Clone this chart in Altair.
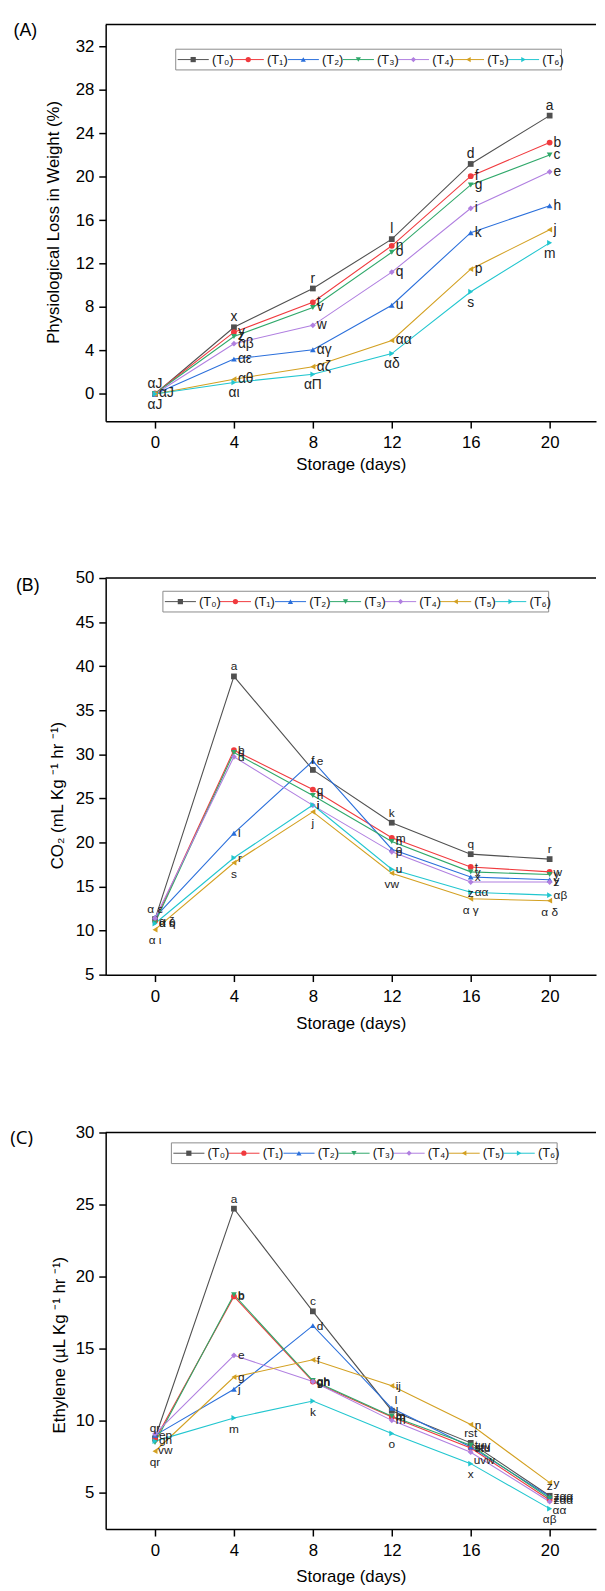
import altair as alt
import pandas as pd

# ---------------- data ----------------
DAYS = [0, 4, 8, 12, 16, 20]
SERIES = ["(T₀)", "(T₁)", "(T₂)", "(T₃)", "(T₄)", "(T₅)", "(T₆)"]
COLORS = ["#505050", "#F03A3E", "#2A6FDB", "#2FA86A", "#B07FE0", "#D3A021", "#21C6CF"]
SHAPES = ["square", "circle", "triangle-up", "triangle-down", "diamond",
          "triangle-left", "triangle-right"]

# (A) Physiological loss in weight (%)
PLW_VALUES = [
    [0.00, 6.14, 9.71, 14.25, 21.17, 25.62],
    [0.05, 5.69, 8.44, 13.64, 20.05, 23.14],
    [0.00, 3.21, 4.08, 8.17, 14.85, 17.33],
    [0.05, 5.29, 7.96, 13.04, 19.24, 21.99],
    [0.00, 4.63, 6.32, 11.22, 17.09, 20.45],
    [0.00, 1.36, 2.51, 4.93, 11.49, 15.12],
    [0.00, 1.06, 1.81, 3.72, 9.41, 13.91],
]
PLW_LETTERS = [
    ["αJ", "x", "r", "l", "d", "a"],
    ["αJ", "y", "t", "n", "f", "b"],
    ["", "αε", "αγ", "u", "k", "h"],
    ["", "z", "v", "o", "g", "c"],
    ["", "αβ", "w", "q", "i", "e"],
    ["", "αθ", "αζ", "αα", "p", "j"],
    ["αJ", "αι", "αΠ", "αδ", "s", "m"],
]
PLW_PLACES = [
    ["a", "a", "a", "a", "a", "a"],
    ["r", "r", "r", "r", "r", "r"],
    ["r", "r", "r", "r", "r", "r"],
    ["r", "r", "r", "r", "r", "r"],
    ["r", "r", "r", "r", "r", "r"],
    ["r", "r", "r", "r", "r", "r"],
    ["b", "b", "b", "b", "b", "b"],
]

# (B) CO2 (mL Kg-1 hr-1)
CO2_VALUES = [
    [11.3, 38.84, 28.23, 22.24, 18.67, 18.11],
    [11.1, 30.47, 26.00, 20.53, 17.22, 16.66],
    [11.5, 21.05, 29.24, 19.23, 16.07, 15.77],
    [10.9, 30.20, 25.33, 20.12, 16.66, 16.36],
    [11.4, 29.72, 24.21, 18.93, 15.51, 15.51],
    [10.1, 17.70, 23.47, 16.51, 13.61, 13.39],
    [10.8, 18.26, 24.25, 16.96, 14.35, 14.02],
]
CO2_LETTERS = [
    ["α ε", "a", "f", "k", "q", "r"],
    ["α ζ", "b", "g", "m", "t", "w"],
    ["", "l", "e", "o", "x", "y"],
    ["α η", "c", "h", "n", "v", "y"],
    ["", "d", "i", "p", "z", "z"],
    ["α ι", "s", "j", "vw", "α γ", "α δ"],
    ["α θ", "r", "i", "u", "αα", "αβ"],
]
CO2_PLACES = [
    ["a", "a", "a", "a", "a", "a"],
    ["r", "r", "r", "r", "r", "r"],
    ["r", "r", "r", "r", "r", "r"],
    ["r", "r", "r", "r", "r", "r"],
    ["r", "r", "r", "r", "b", "r"],
    ["b", "b", "b", "b", "b", "b"],
    ["r", "r", "r", "r", "r", "r"],
]

# (C) Ethylene (uL Kg-1 hr-1)
ETH_VALUES = [
    [8.8, 24.72, 17.60, 10.71, 8.48, 4.81],
    [8.7, 18.63, 12.73, 10.28, 8.12, 4.52],
    [9.0, 12.20, 16.61, 10.88, 8.20, 4.76],
    [8.5, 18.75, 12.80, 10.33, 8.31, 4.64],
    [9.1, 14.55, 12.73, 10.04, 7.83, 4.40],
    [7.9, 13.04, 14.24, 12.44, 9.75, 5.72],
    [8.6, 10.21, 11.38, 9.13, 7.04, 3.92],
]
ETH_LETTERS = [
    ["qr", "a", "c", "l", "rst", "z"],
    ["gh", "b", "gh", "m", "stu", "zαα"],
    ["ep", "j", "d", "l", "stu", "zαα"],
    ["vw", "b", "gh", "m", "tuv", "zαα"],
    ["", "e", "gh", "m", "uvw", "αα"],
    ["qr", "g", "f", "ij", "n", "y"],
    ["", "m", "k", "o", "x", "αβ"],
]
ETH_PLACES = [
    ["a", "a", "a", "r", "a", "a"],
    ["r", "r", "r", "r", "r", "r"],
    ["r", "r", "r", "ra", "r", "r"],
    ["rb", "r", "r", "r", "r", "r"],
    ["r", "r", "r", "r", "rb", "rb"],
    ["b", "r", "r", "r", "r", "r"],
    ["b", "b", "b", "b", "b", "b"],
]

# ---------------- layout ----------------
W, H = 497, 402
XDOM = [-2.5, 22.35]
FONT = "Liberation Sans"
ONE = alt.Data(values=[{"k": 1}])

PLACE_STYLE = {
    "a": dict(dx=0, dy=-10, align="center"),
    "b": dict(dx=0, dy=11, align="center"),
    "r": dict(dx=4, dy=0, align="left"),
    "ra": dict(dx=3, dy=-8, align="left"),
    "rb": dict(dx=3, dy=8, align="left"),
}


def long_table(values, letters, places):
    rows = []
    for si, s in enumerate(SERIES):
        for di, d in enumerate(DAYS):
            rows.append({"series": s, "sidx": si, "day": d,
                         "value": values[si][di],
                         "letter": letters[si][di],
                         "place": places[si][di]})
    return pd.DataFrame(rows)


def legend_table(left, top):
    rows = []
    for i, s in enumerate(SERIES):
        start = left + 2 + 55.8 * i
        rows.append({"series": s, "x0": start, "x1": start + 31.5,
                     "mx": start + 15.7, "tx": left + 36.7 + 55.8 * i,
                     "ly": top + 10.5})
    return pd.DataFrame(rows)


def panel(values, letters, places, ydom, yticks, ytitle, tag, tag_font, tag_size, tag_x, tag_y,
          leg_left, leg_top, lab_size, xtitle_pad, ytitle_pad, ytitle_y, spacer_y=None):
    df = long_table(values, letters, places)
    base = alt.Chart(df)
    x = alt.X("day:Q", scale=alt.Scale(domain=XDOM, nice=False, zero=False),
              axis=alt.Axis(values=DAYS, title="Storage (days)", titlePadding=xtitle_pad,
                            labelPadding=7))
    y = alt.Y("value:Q", scale=alt.Scale(domain=ydom, nice=False, zero=False),
              axis=alt.Axis(values=yticks, title=ytitle, titlePadding=ytitle_pad,
                            titleY=ytitle_y, labelPadding=5))
    color = alt.Color("series:N", scale=alt.Scale(domain=SERIES, range=COLORS), legend=None)
    shape = alt.Shape("series:N", scale=alt.Scale(domain=SERIES, range=SHAPES), legend=None)

    layers = [
        base.mark_line(strokeWidth=1.1).encode(x=x, y=y, color=color, detail="series:N"),
        base.mark_point(filled=True, size=34, opacity=1).encode(x=x, y=y, color=color, shape=shape),
    ]
    used = sorted({p for row in places for p in row})
    for code in used:
        st = PLACE_STYLE[code]
        layers.append(
            base.transform_filter((alt.datum.place == code) & (alt.datum.letter != ""))
            .mark_text(font=FONT, fontSize=lab_size, color="#222222", baseline="middle", **st)
            .encode(x=x, y=y, text="letter:N")
        )

    # frame top line
    layers.append(alt.Chart(ONE).mark_rule(color="black", strokeWidth=1.5)
                  .encode(x=alt.value(0), x2=alt.value(W), y=alt.value(0)))

    # legend
    leg = legend_table(leg_left, leg_top)
    layers.append(alt.Chart(ONE).mark_rect(fill="white", stroke="#8a8a8a", strokeWidth=1)
                  .encode(x=alt.value(leg_left), x2=alt.value(leg_left + 391),
                          y=alt.value(leg_top), y2=alt.value(leg_top + 21)))
    lb = alt.Chart(leg)
    layers.append(lb.mark_rule(strokeWidth=1).encode(
        x=alt.X("x0:Q", scale=None, axis=None), x2="x1:Q",
        y=alt.Y("ly:Q", scale=None, axis=None), color=color))
    layers.append(lb.mark_point(filled=True, size=28, opacity=1).encode(
        x=alt.X("mx:Q", scale=None, axis=None),
        y=alt.Y("ly:Q", scale=None, axis=None), color=color, shape=shape))
    layers.append(lb.mark_text(font=FONT, fontSize=13, align="left", baseline="middle",
                               color="#111111").encode(
        x=alt.X("tx:Q", scale=None, axis=None),
        y=alt.Y("ly:Q", scale=None, axis=None), text="series:N"))

    # panel tag
    layers.append(alt.Chart(ONE).mark_text(font=tag_font, fontSize=tag_size, align="center",
                                           baseline="middle", color="black")
                  .encode(x=alt.value(tag_x), y=alt.value(tag_y), text=alt.value(tag)))
    if spacer_y is not None:
        layers.append(alt.Chart(ONE).mark_rule(color="white", strokeWidth=0.5)
                      .encode(x=alt.value(0), x2=alt.value(1), y=alt.value(spacer_y)))
    return alt.layer(*layers).properties(width=W, height=H)


pA = panel(PLW_VALUES, PLW_LETTERS, PLW_PLACES, [-2.5, 34], [0, 4, 8, 12, 16, 20, 24, 28, 32],
           "Physiological Loss in Weight (%)", "(A)", FONT, 18, -81.4, 6.7,
           71, 25, 14, 5.5, 13, 200, spacer_y=551.5)
pB = panel(CO2_VALUES, CO2_LETTERS, CO2_PLACES, [5, 50], [5, 10, 15, 20, 25, 30, 35, 40, 45, 50],
           "CO₂ (mL Kg ⁻¹ hr ⁻¹)", "(B)", FONT, 18, -79, 8.4,
           58, 13.4, 12, 12, 9, 220, spacer_y=552.4)
pC = panel(ETH_VALUES, ETH_LETTERS, ETH_PLACES, [2.5, 30], [5, 10, 15, 20, 25, 30],
           "Ethylene (µL Kg ⁻¹ hr ⁻¹)", "(C)", "Open Sans", 19, -85.2, 5.8,
           66.6, 10.5, 12, 10, 7, 215)

chart = (
    alt.vconcat(pA, pB, pC, spacing=0)
    .properties(padding={"left": 2, "top": 3, "right": 0, "bottom": 0})
    .configure(font=FONT)
    .configure_view(stroke=None)
    .configure_axis(
        domainColor="black", domainWidth=1.5, tickColor="black", tickWidth=1.5, tickSize=7,
        labelFontSize=17, titleFontSize=17, titleFontWeight="normal",
        labelColor="black", titleColor="black", grid=False,
        labelFont=FONT, titleFont=FONT,
    )
)

chart.save("out.html", embed_options={"renderer": "svg", "actions": False})
